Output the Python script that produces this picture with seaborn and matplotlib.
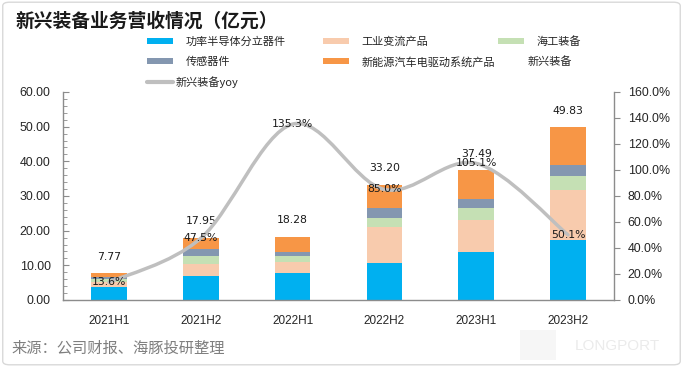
import numpy as np
import pandas as pd
import matplotlib
matplotlib.use("Agg")
import matplotlib.pyplot as plt
import seaborn as sns
from matplotlib.patches import Patch, PathPatch, FancyBboxPatch, Rectangle
from matplotlib.lines import Line2D
from matplotlib.path import Path
from matplotlib.ticker import MultipleLocator, FixedLocator

# ---------------- data ----------------
periods = ["2021H1", "2021H2", "2022H1", "2022H2", "2023H1", "2023H2"]
power_semi = [3.85, 6.92, 7.90, 10.77, 13.95, 17.30]      # 功率半导体分立器件
industrial = [1.40, 3.46, 3.06, 10.38, 9.10, 14.40]       # 工业变流产品
marine = [0.80, 2.30, 1.64, 2.60, 3.35, 4.05]             # 海工装备
sensors = [0.45, 1.90, 1.25, 2.90, 2.80, 3.15]            # 传感器件
ev_drive = [1.27, 3.37, 4.43, 6.55, 8.29, 10.93]          # 新能源汽车电驱动系统产品
totals = [7.77, 17.95, 18.28, 33.20, 37.49, 49.83]        # 新兴装备
yoy = [13.6, 47.5, 135.3, 85.0, 105.1, 50.1]              # 新兴装备yoy (%)

series_names = ["功率半导体分立器件", "工业变流产品", "海工装备", "传感器件", "新能源汽车电驱动系统产品"]
series_vals = [power_semi, industrial, marine, sensors, ev_drive]
colors = ["#00B0F0", "#F8CBAD", "#C5E0B4", "#8497B0", "#F79646"]
line_color = "#BFBFBF"

# ---------------- style ----------------
sns.set_style("white")
plt.rcParams["font.family"] = ["Noto Sans CJK SC", "DejaVu Sans"]

W, H = 683, 367
fig = plt.figure(figsize=(W / 100, H / 100), dpi=100)

def fx(px):
    return px / W

def fy(py):
    return 1 - py / H

ax = fig.add_axes([fx(63), fy(300), fx(614) - fx(63), fy(92) - fy(300)])

df = pd.DataFrame({"period": periods})
cum = np.zeros(len(periods))
cums = []
for v in series_vals:
    cum = cum + np.array(v)
    cums.append(cum.copy())
# draw from top-most cumulative to bottom so that stacks appear
for k in range(len(series_vals) - 1, -1, -1):
    df["h"] = cums[k]
    sns.barplot(data=df, x="period", y="h", color=colors[k], width=0.39,
                errorbar=None, linewidth=0, saturation=1, ax=ax)

ax.set_xlim(-0.5, 5.5)
ax.set_ylim(0, 60)
ax.set_xlabel("")
ax.set_ylabel("")
ax.yaxis.set_major_locator(FixedLocator(np.arange(0, 61, 10)))
ax.yaxis.set_minor_locator(MultipleLocator(2))
ax.set_yticklabels([f"{v:.2f}" for v in np.arange(0, 61, 10)])
spine_col = "#8C8C8C"
for s in ["top", "right"]:
    ax.spines[s].set_visible(False)
for s in ["left", "bottom"]:
    ax.spines[s].set_color(spine_col)
    ax.spines[s].set_linewidth(1.0)
ax.tick_params(axis="y", which="major", direction="in", length=4, color=spine_col,
               pad=8.9, labelsize=8.9, labelcolor="#262626", left=True)
ax.tick_params(axis="y", which="minor", direction="in", length=3, color=spine_col, left=True)
ax.tick_params(axis="x", length=0, pad=11, labelsize=8.5, labelcolor="#262626")
for lab in ax.get_yticklabels() + ax.get_xticklabels():
    lab.set_fontfamily(["Liberation Sans", "DejaVu Sans"])

# total labels above bars
for i, t in enumerate(totals):
    ax.annotate(f"{t:.2f}", (i, t), xytext=(0, 11.9), textcoords="offset points",
                ha="center", va="center", fontsize=7.8, family="DejaVu Sans",
                color="#1a1a1a")

# ---------------- yoy line on twin axis ----------------
ax2 = ax.twinx()
ax2.set_ylim(0, 160)
ax2.set_xlim(-0.5, 5.5)
ax2.yaxis.set_major_locator(FixedLocator(np.arange(0, 161, 20)))
ax2.set_yticklabels([f"{v:.1f}%" for v in np.arange(0, 161, 20)])
for s in ["top", "left", "bottom"]:
    ax2.spines[s].set_visible(False)
ax2.spines["right"].set_color(spine_col)
ax2.spines["right"].set_linewidth(1.0)
ax2.tick_params(axis="y", direction="out", length=4, color=spine_col, pad=5.8,
                labelsize=8.9, labelcolor="#262626")
for lab in ax2.get_yticklabels():
    lab.set_fontfamily(["Liberation Sans", "DejaVu Sans"])

# smoothed line (Catmull-Rom bezier through the data points, like Excel smoothing)
xp = np.arange(len(yoy), dtype=float)
yp = np.array(yoy, dtype=float)
pts = np.column_stack([xp, yp])
verts = [tuple(pts[0])]
codes = [Path.MOVETO]
n = len(pts)
for i in range(n - 1):
    p0 = pts[i - 1] if i > 0 else pts[i]
    p1 = pts[i]
    p2 = pts[i + 1]
    p3 = pts[i + 2] if i + 2 < n else pts[i + 1]
    c1 = p1 + (p2 - p0) / 6.0
    c2 = p2 - (p3 - p1) / 6.0
    verts += [tuple(c1), tuple(c2), tuple(p2)]
    codes += [Path.CURVE4, Path.CURVE4, Path.CURVE4]
ax2.add_patch(PathPatch(Path(verts, codes), facecolor="none", edgecolor=line_color,
                        linewidth=2.5, capstyle="round", joinstyle="round", zorder=3))
# invisible seaborn line for the data points
sns.lineplot(x=xp, y=yp, ax=ax2, color=line_color, linewidth=0, legend=False)
ax2.set_ylabel("")

for i, v in enumerate(yoy):
    ax2.text(i, v, f"{v:.1f}%", ha="center", va="center", fontsize=7.8,
             family="DejaVu Sans", color="#1a1a1a", zorder=5)

# ---------------- legend ----------------
common = dict(frameon=False, borderpad=0, borderaxespad=0, fontsize=8,
              loc="center left", handleheight=0.45, labelcolor="#262626")
entries = [
    (Patch(facecolor=colors[0], linewidth=0), series_names[0], 147, 42, 2.35, 1.1),
    (Patch(facecolor=colors[1], linewidth=0), series_names[1], 323, 42, 2.35, 1.1),
    (Patch(facecolor=colors[2], linewidth=0), series_names[2], 498, 42, 2.35, 1.1),
    (Patch(facecolor=colors[3], linewidth=0), series_names[3], 147, 62, 2.35, 1.1),
    (Patch(facecolor=colors[4], linewidth=0), series_names[4], 323, 62, 2.35, 1.1),
    (Line2D([], [], linestyle="none"), "新兴装备", 528, 62, 0.0, 0.0),
    (Line2D([], [], color=line_color, linewidth=3), "新兴装备yoy", 147, 82, 2.35, 0.25),
]
for h, lab, x0, y0, hl, tp in entries:
    fig.legend(handles=[h], labels=[lab], bbox_to_anchor=(fx(x0), fy(y0)),
               handlelength=hl, handletextpad=tp, **common)

# ---------------- titles / notes ----------------
fig.text(fx(16), fy(21.5), "新兴装备业务营收情况（亿元）", ha="left", va="center",
         fontsize=13.5, fontweight="bold", color="#1a1a1a")
fig.text(fx(11), fy(348), "来源：公司财报、海豚投研整理", ha="left", va="center",
         fontsize=11, color="#7F7F7F")
fig.patches.append(Rectangle((fx(520), fy(360)), fx(36), fy(330) - fy(360),
                             transform=fig.transFigure, facecolor="#F6F6F6",
                             edgecolor="none", zorder=0))
fig.text(fx(575), fy(346), "LONGPORT", ha="left", va="center", fontsize=11,
         color="#EBEBEB", family=["Liberation Sans", "DejaVu Sans"])

fig.patches.append(FancyBboxPatch((0.004, 0.006), 0.992, 0.988,
                                  boxstyle="round,pad=0,rounding_size=0.01",
                                  transform=fig.transFigure, facecolor="none",
                                  edgecolor="#D9D9D9", linewidth=1.0, zorder=0))

fig.savefig("out.png", dpi=100)
